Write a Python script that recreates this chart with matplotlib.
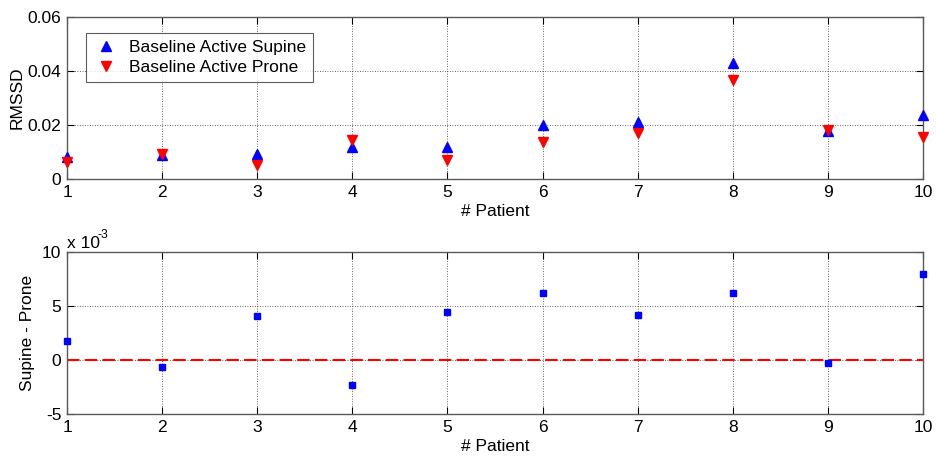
import matplotlib
matplotlib.use("Agg")
import matplotlib.pyplot as plt

patients = [1, 2, 3, 4, 5, 6, 7, 8, 9, 10]
supine = [0.0080, 0.0088, 0.0093, 0.0120, 0.0117, 0.0201, 0.0212, 0.0428, 0.0179, 0.0237]
prone = [0.0063, 0.0094, 0.0051, 0.0143, 0.0072, 0.0138, 0.0170, 0.0365, 0.0182, 0.0157]
diff_e3 = [1.73, -0.62, 4.10, -2.35, 4.40, 6.25, 4.15, 6.20, -0.30, 7.95]

top_yticks = [0, 0.02, 0.04, 0.06]
top_yticklabels = ["0", "0.02", "0.04", "0.06"]
bot_yticks = [-5, 0, 5, 10]
bot_yticklabels = ["-5", "0", "5", "10"]

plt.rcParams['font.family'] = ['Liberation Sans', 'DejaVu Sans']
FS = 12.5
spine_col = '0.35'

fig = plt.figure(figsize=(9.36, 4.57), dpi=100)
ax1 = fig.add_axes([67/936, 1-179/457, 856/936, 162/457])
ax2 = fig.add_axes([67/936, 1-414/457, 856/936, 162/457])

def style(ax):
    ax.set_xlim(1, 10)
    ax.set_xticks(patients)
    ax.set_xticklabels([str(p) for p in patients], fontsize=FS)
    ax.tick_params(direction='in', top=True, right=True, length=5, width=0.8,
                   colors='black', labelsize=FS, pad=4)
    for s in ax.spines.values():
        s.set_color(spine_col)
        s.set_linewidth(1.0)
    ax.grid(True, linestyle=(0, (1, 2)), color='0.2', linewidth=0.6)
    ax.set_axisbelow(True)
    ax.set_xlabel('# Patient', fontsize=FS, labelpad=3)

ax1.plot(patients, supine, linestyle='none', marker='^', color='blue',
         markersize=7.5, label='Baseline Active Supine', clip_on=False, zorder=3)
ax1.plot(patients, prone, linestyle='none', marker='v', color='red',
         markersize=7.5, label='Baseline Active Prone', clip_on=False, zorder=3)
ax1.set_ylim(0, 0.06)
ax1.set_yticks(top_yticks)
ax1.set_yticklabels(top_yticklabels)
ax1.set_ylabel('RMSSD', fontsize=FS, labelpad=2)
style(ax1)
leg = ax1.legend(loc='upper left', bbox_to_anchor=(0.0218, 0.901), borderaxespad=0,
                 fontsize=FS, frameon=True, fancybox=False, handlelength=1.5,
                 handletextpad=0.6, borderpad=0.4, labelspacing=0.25)
leg.get_frame().set_edgecolor('0.2')
leg.get_frame().set_linewidth(0.8)

ax2.axhline(0, color='red', linestyle=(0, (6, 2.5)), linewidth=1.5, zorder=2)
ax2.plot(patients, diff_e3, linestyle='none', marker='s', color='blue',
         markersize=5, clip_on=False, zorder=3)
ax2.set_ylim(-5, 10)
ax2.set_yticks(bot_yticks)
ax2.set_yticklabels(bot_yticklabels)
ax2.set_ylabel('Supine - Prone', fontsize=FS, labelpad=5)
style(ax2)
ax2.text(0.0, 1.005, 'x 10', transform=ax2.transAxes, fontsize=FS,
         ha='left', va='bottom')
ax2.text(0.036, 1.07, '-3', transform=ax2.transAxes, fontsize=FS * 0.7,
         ha='left', va='bottom')

fig.savefig('out.png', dpi=100)
